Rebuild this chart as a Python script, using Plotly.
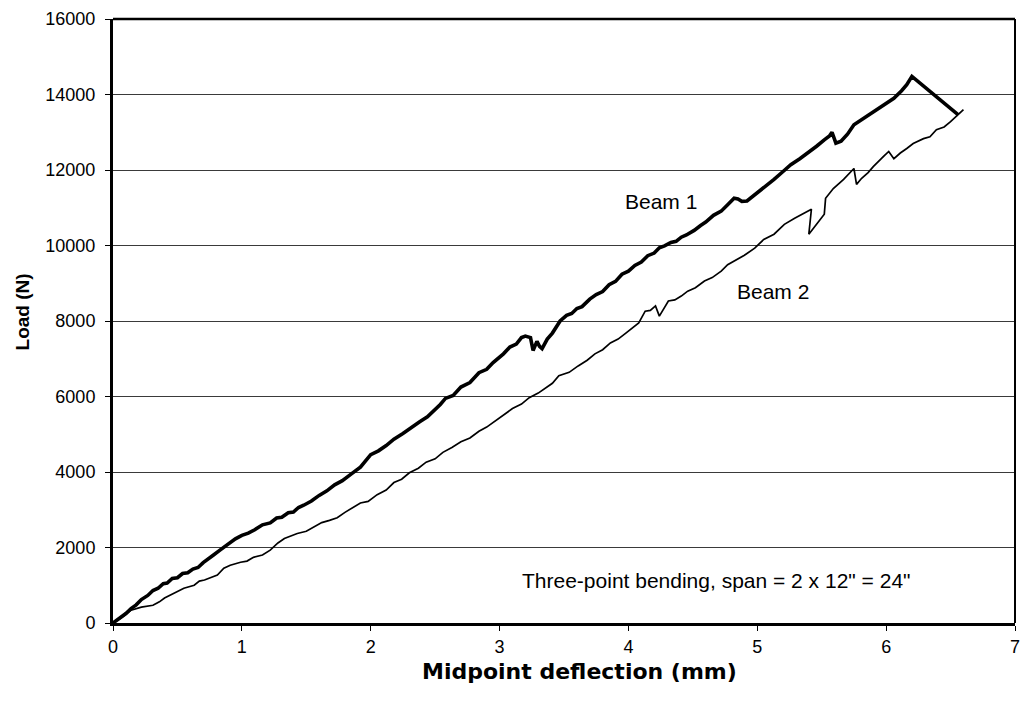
import plotly.graph_objects as go

# Beam 1 (thick, noisy trace)
beam1_x = [0.00, 0.05, 0.10, 0.14, 0.18, 0.22, 0.27, 0.31, 0.35, 0.39, 0.42, 0.46, 0.50, 0.54, 0.58,
           0.62, 0.66, 0.70, 0.74, 0.78, 0.83, 0.87, 0.90, 0.95, 1.00, 1.05, 1.10, 1.16, 1.22, 1.27,
           1.31, 1.36, 1.40, 1.44, 1.48, 1.54, 1.60, 1.66, 1.72, 1.78, 1.85, 1.92, 2.00, 2.06,
           2.12, 2.18, 2.25, 2.31, 2.38, 2.44, 2.50, 2.54, 2.58, 2.64, 2.70, 2.77, 2.84, 2.90,
           2.95, 3.00, 3.03, 3.08, 3.13, 3.17, 3.20, 3.24, 3.26, 3.29, 3.31, 3.33, 3.37, 3.41,
           3.44, 3.47, 3.52, 3.56, 3.60, 3.64, 3.70, 3.75, 3.80, 3.85, 3.90, 3.95, 4.00, 4.05,
           4.10, 4.15, 4.20, 4.24, 4.28, 4.33, 4.37, 4.41, 4.45, 4.51, 4.56, 4.60, 4.66, 4.72,
           4.77, 4.82, 4.85, 4.88, 4.92, 4.95, 4.98, 5.05, 5.13, 5.20, 5.26, 5.33, 5.39, 5.46,
           5.52, 5.56, 5.58, 5.61, 5.65, 5.70, 5.75, 5.82, 5.90, 5.98, 6.06, 6.12, 6.16, 6.20, 6.56]
beam1_y = [0, 120, 250, 380, 480, 620, 730, 860, 920, 1040, 1060, 1180, 1200, 1310, 1330,
           1430, 1470, 1600, 1690, 1800, 1930, 2030, 2080, 2230, 2320, 2380, 2470, 2600, 2650, 2780,
           2800, 2920, 2940, 3060, 3120, 3230, 3380, 3500, 3660, 3770, 3950, 4130, 4460, 4560,
           4700, 4870, 5020, 5170, 5330, 5460, 5650, 5790, 5950, 6030, 6250, 6370, 6630, 6720,
           6900, 7040, 7130, 7310, 7390, 7560, 7600, 7560, 7220, 7460, 7330, 7270, 7520, 7680,
           7860, 8000, 8150, 8200, 8330, 8380, 8580, 8700, 8780, 8960, 9050, 9240, 9320, 9470,
           9560, 9730, 9800, 9940, 9990, 10080, 10110, 10220, 10280, 10400, 10530, 10620, 10800, 10910,
           11080, 11250, 11230, 11170, 11180, 11260, 11360, 11520, 11750, 11960, 12140, 12300, 12440, 12630,
           12800, 12900, 13000, 12710, 12760, 12950, 13200, 13360, 13540, 13720, 13900, 14100, 14260, 14480, 13460]

# Beam 2 (thin trace)
beam2_x = [0.00, 0.07, 0.14, 0.22, 0.31, 0.36, 0.40, 0.48, 0.55, 0.63, 0.67, 0.71, 0.81, 0.86,
           0.91, 0.99, 1.04, 1.09, 1.16, 1.22, 1.28, 1.33, 1.43, 1.50, 1.56, 1.62, 1.68, 1.74,
           1.80, 1.86, 1.92, 1.98, 2.05, 2.12, 2.18, 2.24, 2.30, 2.37, 2.43, 2.50, 2.56, 2.63,
           2.70, 2.77, 2.84, 2.90, 2.97, 3.04, 3.10, 3.17, 3.23, 3.30, 3.36, 3.41, 3.46, 3.54,
           3.61, 3.68, 3.74, 3.80, 3.86, 3.92, 3.98, 4.03, 4.08, 4.13, 4.17, 4.21, 4.24, 4.31,
           4.36, 4.41, 4.46, 4.52, 4.59, 4.65, 4.72, 4.77, 4.82, 4.90, 4.98, 5.05, 5.13, 5.21,
           5.29, 5.36, 5.42, 5.40, 5.52, 5.53, 5.59, 5.67, 5.75, 5.77, 5.81, 5.86, 5.90, 5.98,
           6.02, 6.06, 6.11, 6.16, 6.21, 6.29, 6.34, 6.39, 6.45, 6.50, 6.57, 6.60]
beam2_y = [0, 150, 340, 420, 470, 560, 660, 790, 920, 1000, 1110, 1140, 1270, 1450,
           1530, 1610, 1640, 1740, 1800, 1930, 2120, 2240, 2370, 2430, 2540, 2660, 2720, 2790,
           2930, 3060, 3180, 3220, 3400, 3520, 3720, 3810, 3980, 4100, 4260, 4350, 4520, 4650,
           4800, 4900, 5080, 5190, 5360, 5540, 5680, 5800, 5970, 6090, 6230, 6350, 6550, 6640,
           6810, 6960, 7130, 7240, 7420, 7520, 7680, 7820, 7950, 8260, 8280, 8400, 8130, 8530,
           8560, 8660, 8790, 8880, 9060, 9150, 9320, 9490, 9580, 9740, 9930, 10160, 10300, 10560,
           10720, 10850, 10960, 10300, 10830, 11250, 11510, 11750, 12040, 11620, 11780, 11930, 12090, 12360,
           12490, 12300, 12450, 12570, 12700, 12830, 12880, 13070, 13140, 13280, 13490, 13600]

x_ticks = [0, 1, 2, 3, 4, 5, 6, 7]
y_ticks = [0, 2000, 4000, 6000, 8000, 10000, 12000, 14000, 16000]

FONT = "Liberation Sans, Arial, sans-serif"

fig = go.Figure()
fig.add_trace(go.Scatter(x=beam1_x, y=beam1_y, mode="lines",
                         line=dict(color="black", width=3.6), name="Beam 1"))
fig.add_trace(go.Scatter(x=beam2_x, y=beam2_y, mode="lines",
                         line=dict(color="black", width=1.7), name="Beam 2"))

fig.update_layout(
    width=1029, height=702,
    margin=dict(l=113, r=9, t=17, b=79),
    paper_bgcolor="white", plot_bgcolor="white",
    showlegend=False,
    font=dict(family=FONT, color="black", size=18),
)
fig.update_xaxes(
    range=[0, 7], tickvals=x_ticks, ticktext=[str(v) for v in x_ticks],
    showgrid=False, zeroline=False,
    showline=True, linewidth=3, linecolor="black",
    ticks="outside", ticklen=5, tickwidth=1, tickcolor="black",
    ticklabelstandoff=0,
    tickfont=dict(family=FONT, size=18, color="black"),
)
fig.update_yaxes(
    range=[0, 16000], tickvals=y_ticks, ticktext=[str(v) for v in y_ticks],
    showgrid=True, gridcolor="#3a3a3a", gridwidth=1, zeroline=False,
    showline=True, linewidth=3, linecolor="black",
    ticks="outside", ticklen=5, tickwidth=1, tickcolor="black",
    ticklabelstandoff=6,
    tickfont=dict(family=FONT, size=18, color="black"),
)

# top and right frame
fig.add_shape(type="line", xref="paper", yref="paper", x0=0, x1=1, y0=1, y1=1,
              line=dict(color="black", width=2.5))
fig.add_shape(type="line", xref="paper", yref="paper", x0=1, x1=1, y0=0, y1=1,
              line=dict(color="black", width=2))

# axis titles
fig.add_annotation(text="<b>Midpoint deflection (mm)</b>", xref="paper", yref="paper",
                   x=0.517, y=-0.08, showarrow=False, xanchor="center", yanchor="middle",
                   font=dict(family="DejaVu Sans, sans-serif", size=22, color="black"))
fig.add_annotation(text="<b>Load (N)</b>", xref="paper", yref="paper",
                   x=-0.1003, y=0.515, showarrow=False, textangle=-90,
                   xanchor="center", yanchor="middle",
                   font=dict(family=FONT, size=19, color="black"))

# in-plot labels
fig.add_annotation(text="Beam 1", x=4.25, y=11170, showarrow=False,
                   font=dict(family=FONT, size=21, color="black"))
fig.add_annotation(text="Beam 2", x=5.12, y=8790, showarrow=False,
                   font=dict(family=FONT, size=21, color="black"))
fig.add_annotation(text="Three-point bending, span = 2 x 12\" = 24\"", x=6.21, y=1135,
                   xanchor="right", showarrow=False,
                   font=dict(family=FONT, size=21, color="black"))

fig.write_html("out.html")
